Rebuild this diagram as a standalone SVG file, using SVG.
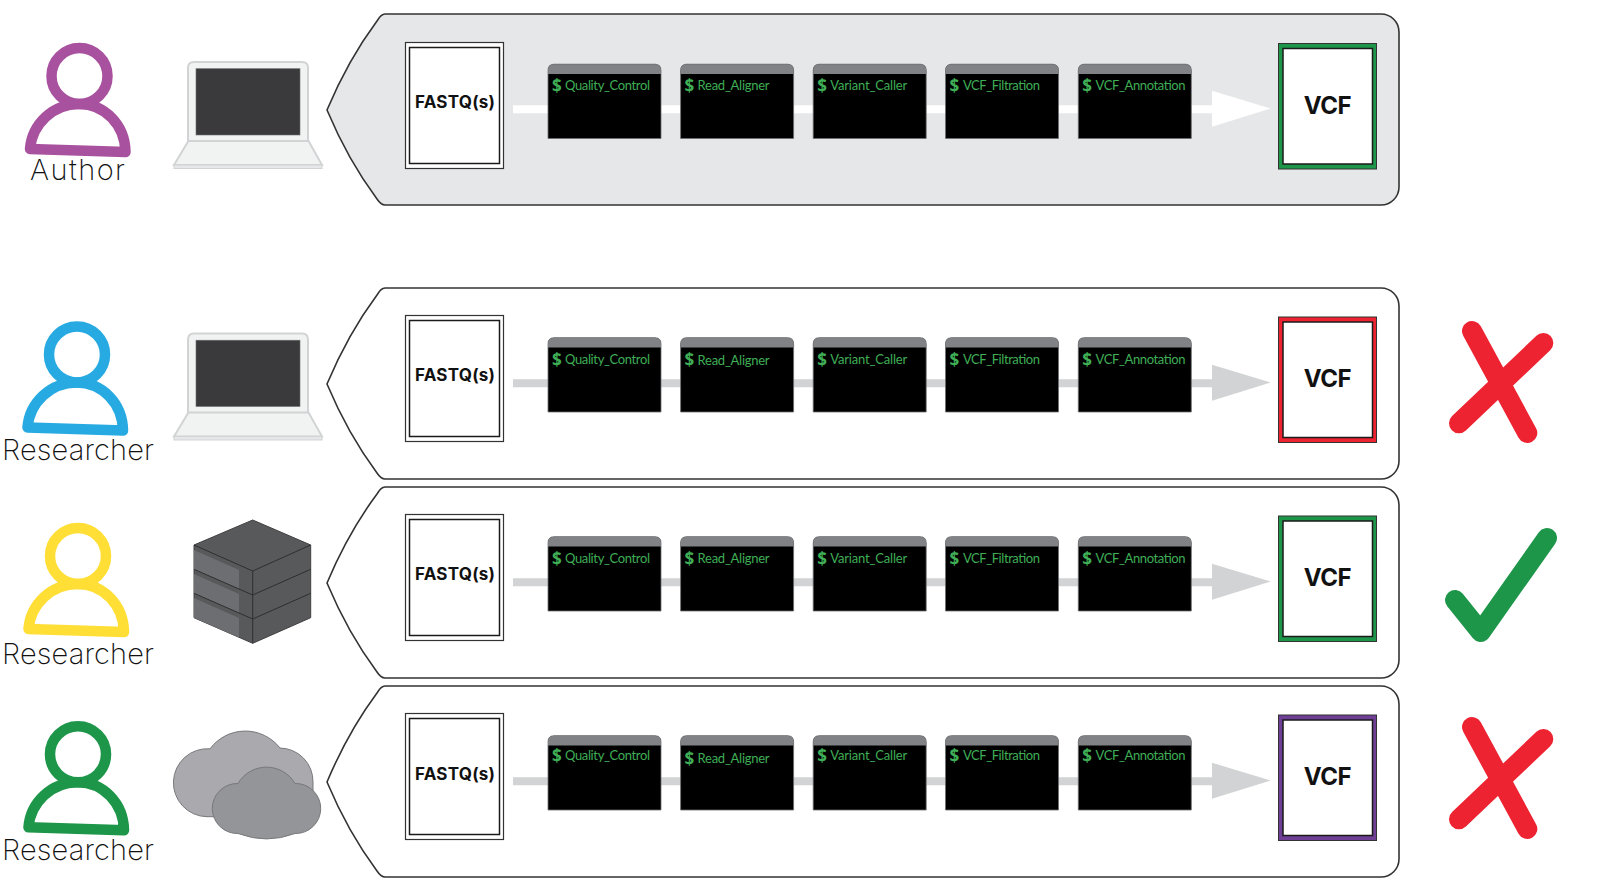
<svg xmlns="http://www.w3.org/2000/svg" width="1600" height="883" viewBox="0 0 1600 883">
<style>
.panel{stroke:#333;stroke-width:1.6}
.white{fill:#fff}.grey{fill:#e6e7e8}
.box{fill:#fff;stroke:#1a1a1a;stroke-width:1.5}
.fq{font:700 17px Inter,"Liberation Sans",sans-serif;text-anchor:middle;fill:#111}
.vcf{font:700 24px Inter,"Liberation Sans",sans-serif;text-anchor:middle;fill:#111}
.who{font:200 29px Inter,"Open Sans",sans-serif;text-anchor:middle;fill:#111}
.cmd{font:400 13px Lato,"Open Sans",sans-serif;fill:#3fae56}
.dol{font:700 17px "Open Sans",sans-serif;fill:#3fae56}
.body{fill:#000}.bar{fill:#808285}
.person{fill:none;stroke-width:10.5;stroke-linejoin:round}
.stroke{fill:none;stroke-width:20;stroke-linecap:round;stroke-linejoin:round}
</style>
<defs>
<path id="outline" d="M385,14H1381A18,18 0 0 1 1399,32V187A18,18 0 0 1 1381,205H385Q381,205 377,199Q348,160 327,110Q348,60 377,21Q381,14 385,14Z"/>
<g id="personShape"><circle cx="79.500" cy="76" r="28"/><path d="M30,149C32,124 53,104 79,104C105,104 125,125 125.500,152Z"/></g>
<g id="laptopShape">
<path d="M174,165L189,140H308L322,165Z" fill="#f1f2f2" stroke="#d1d3d4" stroke-width="2"/>
<rect x="174" y="165" width="148" height="3.500" fill="#e6e7e8" stroke="#d1d3d4" stroke-width="1"/>
<path d="M188,141V68Q188,62 194,62H302Q308,62 308,68V141Z" fill="#f1f2f2" stroke="#d1d3d4" stroke-width="2"/>
<rect x="196" y="68.700" width="104" height="66.300" fill="#3a3a3c" stroke="#6d6e71" stroke-width=".6"/>
</g>
<path id="cross" d="M1472,331L1527.300,433M1543.300,343L1459,423.300"/>
<g id="termShape">
<path d="M548,138.500V70.500Q548,64.200 554,64.200H655Q661,64.200 661,70.500V138.500Z" class="body" stroke="#6d6e71" stroke-width=".8"/>
<path d="M548,74V70.500Q548,64.200 554,64.200H655Q661,64.200 661,70.500V74Z" class="bar"/>
</g>
</defs>

<g id="panels">
<use href="#outline" class="panel grey"/>
<use href="#outline" class="panel white" y="274"/>
<use href="#outline" class="panel white" y="473"/>
<use href="#outline" class="panel white" y="672"/>
</g>

<g id="connectors">
<g fill="#fff"><path d="M513,105.300H1212V90.700L1270.700,108.500L1212,126.700V113.300H513Z"/></g>
<g fill="#d1d3d4">
<path transform="translate(0,274)" d="M513,105.300H1212V90.700L1270.700,108.500L1212,126.700V113.300H513Z"/>
<path transform="translate(0,473)" d="M513,105.300H1212V90.700L1270.700,108.500L1212,126.700V113.300H513Z"/>
<path transform="translate(0,672)" d="M513,105.300H1212V90.700L1270.700,108.500L1212,126.700V113.300H513Z"/>
</g>
</g>

<g id="person-author"><use href="#personShape" class="person" stroke="#a8519e"/><text class="who" x="77.500" y="180" textLength="95">Author</text></g>
<g id="person-blue"><use href="#personShape" class="person" stroke="#27aae1" x="-2.500" y="278.500"/><text class="who" x="78" y="459.700" textLength="152">Researcher</text></g>
<g id="person-yellow"><use href="#personShape" class="person" stroke="#ffde35" x="-1.500" y="480"/><text class="who" x="78" y="663.700" textLength="152">Researcher</text></g>
<g id="person-green"><use href="#personShape" class="person" stroke="#1e964a" x="-1.500" y="678.300"/><text class="who" x="78" y="860" textLength="152">Researcher</text></g>

<g id="laptop-1"><use href="#laptopShape"/></g>
<g id="laptop-2"><use href="#laptopShape" y="271.500"/></g>
<g id="server">
<path d="M252.700,520L310.700,545V617.700L252.700,643.300L194,617.700V545Z" fill="#58595b" stroke="#414042"/>
<path d="M194,550L239,570V589L194,569.300ZM194,574L239,594V613L194,593.300ZM194,598L239,618V637.400L194,617.700Z" fill="#6d6e71"/>
<path d="M194,545L252.700,571L310.700,545M252.700,571V643.300M194,569.300L252.700,595L310.700,569.300M194,593.300L252.700,619L310.700,593.300" fill="none" stroke="#2f2f30" stroke-width="1"/>
</g>
<g id="cloud" stroke="#77787b" stroke-width="1">
<path d="M210,748.800A44,44 0 0 1 280,748A33.500,33.500 0 0 1 313,782V800L240,816.700H207A34,34 0 1 1 210,748.800Z" fill="#a9a9ae"/>
<path d="M238,783.500A33,33 0 0 1 295,783.500A25.010,25.010 0 1 1 295,833.500A80,80 0 0 1 238,833.500A25.010,25.010 0 1 1 238,783.500Z" fill="#939598"/>
</g>

<g id="row1">
<g id="fastq-1"><rect x="405.500" y="42.500" width="98" height="126" fill="#fff" stroke="#333" stroke-width="1.200"/><rect class="box" x="409.500" y="47.500" width="90" height="116"/><text class="fq" x="455" y="108" textLength="80">FASTQ(s)</text></g>
<g id="t1-1"><use href="#termShape"/><text class="dol" x="552" y="92">$</text><text class="cmd" x="565" y="90" textLength="85">Quality_Control</text></g>
<g id="t1-2"><use href="#termShape" x="132.600"/><text class="dol" x="684.600" y="92">$</text><text class="cmd" x="697.600" y="90" textLength="72">Read_Aligner</text></g>
<g id="t1-3"><use href="#termShape" x="265.200"/><text class="dol" x="817.200" y="92">$</text><text class="cmd" x="830.200" y="90" textLength="77">Variant_Caller</text></g>
<g id="t1-4"><use href="#termShape" x="397.500"/><text class="dol" x="949.500" y="92">$</text><text class="cmd" x="963" y="90" textLength="77">VCF_Filtration</text></g>
<g id="t1-5"><use href="#termShape" x="530.300"/><text class="dol" x="1082.300" y="92">$</text><text class="cmd" x="1095.600" y="90" textLength="90">VCF_Annotation</text></g>
<g id="vcf-1"><rect x="1278.500" y="43.500" width="98" height="125.500" fill="#1e964a" stroke="#333" stroke-width="1"/><rect class="box" x="1283" y="48.500" width="89.500" height="115.500"/><text class="vcf" x="1327.700" y="113.500" textLength="48">VCF</text></g>
</g>

<g id="row2" transform="translate(0,273.500)">
<g id="fastq-2"><rect x="405.500" y="42" width="98" height="126" fill="#fff" stroke="#333" stroke-width="1.200"/><rect class="box" x="409.500" y="47" width="90" height="116"/><text class="fq" x="455" y="107" textLength="80">FASTQ(s)</text></g>
<g id="t2-1"><use href="#termShape"/><text class="dol" x="552" y="92.500">$</text><text class="cmd" x="565" y="90.500" textLength="85">Quality_Control</text></g>
<g id="t2-2"><use href="#termShape" x="132.600"/><text class="dol" x="684.600" y="92.500">$</text><text class="cmd" x="697.600" y="91" textLength="72">Read_Aligner</text></g>
<g id="t2-3"><use href="#termShape" x="265.200"/><text class="dol" x="817.200" y="92.500">$</text><text class="cmd" x="830.200" y="90.500" textLength="77">Variant_Caller</text></g>
<g id="t2-4"><use href="#termShape" x="397.500"/><text class="dol" x="949.500" y="92.500">$</text><text class="cmd" x="963" y="90.500" textLength="77">VCF_Filtration</text></g>
<g id="t2-5"><use href="#termShape" x="530.300"/><text class="dol" x="1082.300" y="92.500">$</text><text class="cmd" x="1095.600" y="90.500" textLength="90">VCF_Annotation</text></g>
<g id="vcf-2"><rect x="1278.500" y="43.500" width="98" height="125.500" fill="#ed2331" stroke="#333" stroke-width="1"/><rect class="box" x="1283" y="48.500" width="89.500" height="115.500"/><text class="vcf" x="1327.700" y="113.500" textLength="48">VCF</text></g>
</g>

<g id="row3" transform="translate(0,472.500)">
<g id="fastq-3"><rect x="405.500" y="42" width="98" height="126" fill="#fff" stroke="#333" stroke-width="1.200"/><rect class="box" x="409.500" y="47" width="90" height="116"/><text class="fq" x="455" y="107" textLength="80">FASTQ(s)</text></g>
<g id="t3-1"><use href="#termShape"/><text class="dol" x="552" y="92.500">$</text><text class="cmd" x="565" y="90.500" textLength="85">Quality_Control</text></g>
<g id="t3-2"><use href="#termShape" x="132.600"/><text class="dol" x="684.600" y="92.500">$</text><text class="cmd" x="697.600" y="90.500" textLength="72">Read_Aligner</text></g>
<g id="t3-3"><use href="#termShape" x="265.200"/><text class="dol" x="817.200" y="92.500">$</text><text class="cmd" x="830.200" y="90.500" textLength="77">Variant_Caller</text></g>
<g id="t3-4"><use href="#termShape" x="397.500"/><text class="dol" x="949.500" y="92.500">$</text><text class="cmd" x="963" y="90.500" textLength="77">VCF_Filtration</text></g>
<g id="t3-5"><use href="#termShape" x="530.300"/><text class="dol" x="1082.300" y="92.500">$</text><text class="cmd" x="1095.600" y="90.500" textLength="90">VCF_Annotation</text></g>
<g id="vcf-3"><rect x="1278.500" y="43.500" width="98" height="125.500" fill="#1e964a" stroke="#333" stroke-width="1"/><rect class="box" x="1283" y="48.500" width="89.500" height="115.500"/><text class="vcf" x="1327.700" y="113.500" textLength="48">VCF</text></g>
</g>

<g id="row4" transform="translate(0,671.500)">
<g id="fastq-4"><rect x="405.500" y="42" width="98" height="126" fill="#fff" stroke="#333" stroke-width="1.200"/><rect class="box" x="409.500" y="47" width="90" height="116"/><text class="fq" x="455" y="108" textLength="80">FASTQ(s)</text></g>
<g id="t4-1"><use href="#termShape"/><text class="dol" x="552" y="90.500">$</text><text class="cmd" x="565" y="88.500" textLength="85">Quality_Control</text></g>
<g id="t4-2"><use href="#termShape" x="132.600"/><text class="dol" x="684.600" y="93">$</text><text class="cmd" x="697.600" y="91" textLength="72">Read_Aligner</text></g>
<g id="t4-3"><use href="#termShape" x="265.200"/><text class="dol" x="817.200" y="90.500">$</text><text class="cmd" x="830.200" y="88.500" textLength="77">Variant_Caller</text></g>
<g id="t4-4"><use href="#termShape" x="397.500"/><text class="dol" x="949.500" y="90.500">$</text><text class="cmd" x="963" y="88.500" textLength="77">VCF_Filtration</text></g>
<g id="t4-5"><use href="#termShape" x="530.300"/><text class="dol" x="1082.300" y="90.500">$</text><text class="cmd" x="1095.600" y="88.500" textLength="90">VCF_Annotation</text></g>
<g id="vcf-4"><rect x="1278.500" y="43.500" width="98" height="125.500" fill="#6f3f96" stroke="#333" stroke-width="1"/><rect class="box" x="1283" y="48.500" width="89.500" height="115.500"/><text class="vcf" x="1327.700" y="113.500" textLength="48">VCF</text></g>
</g>

<g id="mark-cross-1"><use href="#cross" class="stroke" stroke="#ed2331"/></g>
<g id="mark-check"><path class="stroke" stroke="#1e964a" d="M1455,600L1480.700,632L1547,538"/></g>
<g id="mark-cross-2"><use href="#cross" class="stroke" stroke="#ed2331" y="396"/></g>
</svg>
